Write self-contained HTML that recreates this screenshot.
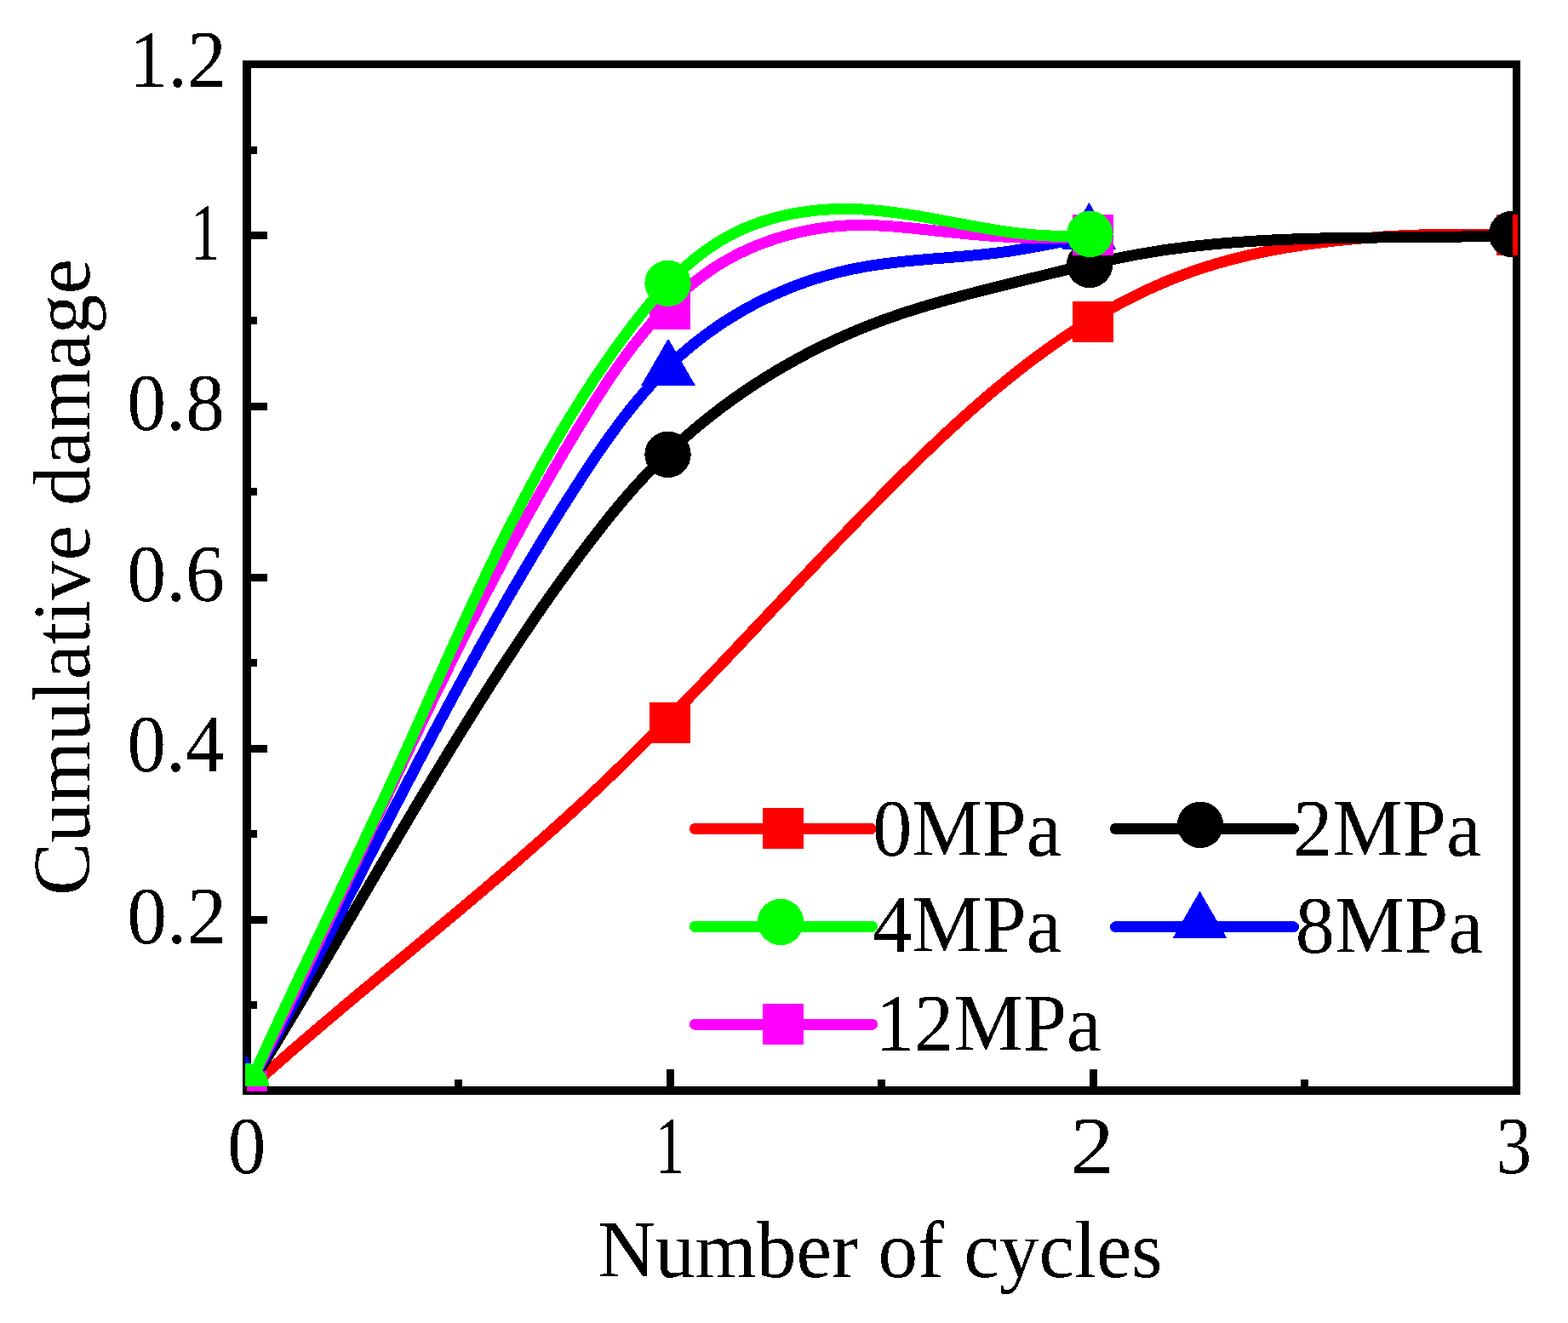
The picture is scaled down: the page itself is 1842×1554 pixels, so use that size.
<!DOCTYPE html><html><head><meta charset="utf-8"><title>Cumulative damage vs Number of cycles</title><style>html,body{margin:0;padding:0;background:#fff;overflow:hidden}svg{display:block}</style></head><body>
<svg width="1842" height="1554" viewBox="0 0 1842 1554" shape-rendering="crispEdges">
<rect x="0" y="0" width="1842" height="1554" fill="#fff"/>
<defs><filter id="bin" x="0" y="0" width="100%" height="100%" filterUnits="userSpaceOnUse"><feComponentTransfer><feFuncA type="discrete" tableValues="0 1"/></feComponentTransfer></filter></defs>
<g fill="#000" shape-rendering="crispEdges">
<rect x="285" y="71" width="10" height="1215"/>
<rect x="1777" y="71" width="9" height="1215"/>
<rect x="285" y="71" width="1501" height="9"/>
<rect x="285" y="1276" width="1501" height="10"/>
<rect x="295" y="1176" width="7" height="9"/>
<rect x="295" y="1076" width="19" height="9"/>
<rect x="295" y="975" width="7" height="9"/>
<rect x="295" y="875" width="19" height="9"/>
<rect x="295" y="774" width="7" height="9"/>
<rect x="295" y="674" width="19" height="9"/>
<rect x="295" y="573" width="7" height="9"/>
<rect x="295" y="473" width="19" height="9"/>
<rect x="295" y="372" width="7" height="9"/>
<rect x="295" y="272" width="19" height="9"/>
<rect x="295" y="172" width="7" height="9"/>
<rect x="534" y="1268" width="9" height="8"/>
<rect x="783" y="1256" width="9" height="20"/>
<rect x="1031" y="1268" width="9" height="8"/>
<rect x="1280" y="1256" width="9" height="20"/>
<rect x="1528" y="1268" width="9" height="8"/>
</g>
<g font-family="'Liberation Serif','Times New Roman',serif" fill="#000" filter="url(#bin)">
<text x="151.5" y="102.4" font-size="95.5" textLength="114.4" lengthAdjust="spacingAndGlyphs">1.2</text>
<text x="223.5" y="304.5" font-size="95.5" textLength="35.1" lengthAdjust="spacingAndGlyphs">1</text>
<text x="149.2" y="504.8" font-size="95.5" textLength="114.7" lengthAdjust="spacingAndGlyphs">0.8</text>
<text x="149.3" y="705.5" font-size="95.5" textLength="114.7" lengthAdjust="spacingAndGlyphs">0.6</text>
<text x="149.4" y="906.4" font-size="95.5" textLength="113.8" lengthAdjust="spacingAndGlyphs">0.4</text>
<text x="149.2" y="1108.1" font-size="95.5" textLength="117.2" lengthAdjust="spacingAndGlyphs">0.2</text>
<text x="267.2" y="1377.7" font-size="95.5" textLength="45.1" lengthAdjust="spacingAndGlyphs">0</text>
<text x="769.6" y="1378.1" font-size="95.5" textLength="34.5" lengthAdjust="spacingAndGlyphs">1</text>
<text x="1257.8" y="1377.7" font-size="95.5" textLength="51.0" lengthAdjust="spacingAndGlyphs">2</text>
<text x="1757.8" y="1377.7" font-size="95.5" textLength="41.4" lengthAdjust="spacingAndGlyphs">3</text>
<text x="702.2" y="1500.3" font-size="95.5" textLength="663.5" lengthAdjust="spacingAndGlyphs">Number of cycles</text>
<text transform="translate(104.7 1052.0) rotate(-90)" x="0" y="0" font-size="95.5" textLength="747.8" lengthAdjust="spacingAndGlyphs">Cumulative damage</text>
</g>
<defs><clipPath id="cs"><rect x="290" y="70" width="1493" height="1212"/></clipPath><clipPath id="cc"><rect x="288" y="70" width="1489" height="1206"/></clipPath></defs>
<path d="M290.0 1281.0 L296.9 1274.8 L303.8 1268.6 L310.7 1262.4 L317.7 1256.2 L324.7 1250.1 L331.7 1244.0 L338.7 1237.8 L345.7 1231.7 L352.8 1225.7 L359.8 1219.6 L366.9 1213.5 L374.0 1207.5 L381.1 1201.4 L388.2 1195.4 L395.4 1189.4 L402.5 1183.3 L409.7 1177.3 L416.8 1171.3 L424.0 1165.3 L431.2 1159.4 L438.4 1153.4 L445.5 1147.4 L452.7 1141.4 L459.9 1135.4 L467.1 1129.4 L474.3 1123.5 L481.5 1117.5 L488.7 1111.5 L495.9 1105.5 L503.1 1099.6 L510.3 1093.6 L517.5 1087.6 L524.7 1081.6 L531.9 1075.6 L539.1 1069.6 L546.2 1063.6 L553.4 1057.5 L560.5 1051.5 L567.7 1045.5 L574.8 1039.4 L581.9 1033.3 L589.0 1027.3 L596.1 1021.2 L603.2 1015.1 L610.3 1009.0 L617.3 1002.8 L624.3 996.7 L631.3 990.5 L638.3 984.3 L645.3 978.1 L652.3 971.9 L659.2 965.7 L666.1 959.4 L673.0 953.1 L679.8 946.8 L686.7 940.5 L693.5 934.1 L700.3 927.8 L707.0 921.4 L713.8 914.9 L720.5 908.5 L727.2 902.0 L733.8 895.5 L740.5 889.0 L747.1 882.5 L753.7 876.0 L760.3 869.4 L766.9 862.8 L773.4 856.2 L779.9 849.6 L786.5 843.0 L793.0 836.4 L799.5 829.7 L805.9 823.0 L812.4 816.4 L818.9 809.7 L825.3 803.0 L831.7 796.2 L838.2 789.5 L844.6 782.8 L851.0 776.0 L857.4 769.3 L863.8 762.5 L870.2 755.8 L876.6 749.0 L883.0 742.2 L889.4 735.5 L895.8 728.7 L902.2 721.9 L908.6 715.1 L915.0 708.4 L921.4 701.6 L927.8 694.8 L934.2 688.0 L940.6 681.2 L947.0 674.4 L953.4 667.7 L959.9 660.9 L966.3 654.1 L974.9 645.1 L981.4 638.4 L987.9 631.6 L994.3 624.9 L1000.9 618.1 L1007.4 611.4 L1013.9 604.7 L1020.5 598.0 L1027.0 591.3 L1033.6 584.6 L1040.2 578.0 L1046.8 571.3 L1053.5 564.7 L1060.1 558.0 L1066.8 551.4 L1073.6 544.9 L1080.3 538.3 L1087.0 531.8 L1093.8 525.2 L1100.7 518.8 L1107.5 512.3 L1114.4 505.9 L1121.3 499.6 L1128.2 493.2 L1135.2 487.0 L1142.2 480.7 L1149.3 474.5 L1156.3 468.4 L1163.4 462.3 L1170.6 456.3 L1177.8 450.4 L1185.0 444.5 L1192.3 438.7 L1199.6 432.9 L1207.0 427.2 L1214.4 421.6 L1221.9 416.1 L1229.4 410.6 L1236.9 405.3 L1244.5 400.0 L1252.2 394.8 L1259.9 389.7 L1267.6 384.7 L1275.4 379.7 L1283.3 374.9 L1291.2 370.2 L1299.2 365.6 L1307.2 361.1 L1315.3 356.7 L1323.5 352.4 L1331.7 348.2 L1340.0 344.1 L1348.3 340.2 L1356.7 336.4 L1365.2 332.7 L1373.7 329.1 L1382.3 325.7 L1391.0 322.4 L1399.7 319.2 L1408.5 316.2 L1417.4 313.3 L1426.4 310.5 L1435.4 307.9 L1444.4 305.4 L1453.6 303.1 L1462.7 300.8 L1471.9 298.7 L1481.2 296.7 L1490.5 294.8 L1499.8 293.0 L1509.1 291.3 L1518.4 289.8 L1527.8 288.3 L1537.2 286.9 L1546.5 285.6 L1555.9 284.5 L1565.2 283.3 L1574.6 282.3 L1583.9 281.4 L1593.2 280.5 L1602.5 279.7 L1611.8 279.0 L1621.0 278.3 L1630.3 277.7 L1639.5 277.2 L1648.8 276.7 L1658.0 276.3 L1667.3 276.0 L1676.5 275.7 L1685.7 275.4 L1695.0 275.3 L1704.2 275.1 L1713.5 275.0 L1722.8 275.0 L1732.1 275.0 L1741.4 275.0 L1750.7 275.0 L1760.1 275.1 L1769.4 275.3 L1782.0 275.5" fill="none" stroke="#ff0000" stroke-width="13" stroke-linejoin="round" stroke-linecap="round" clip-path="url(#cs)"/>
<rect x="266.0" y="1257.0" width="48" height="48" fill="#ff0000" clip-path="url(#cs)"/>
<rect x="763.0" y="825.0" width="48" height="48" fill="#ff0000" clip-path="url(#cs)"/>
<rect x="1260.0" y="354.0" width="48" height="48" fill="#ff0000" clip-path="url(#cs)"/>
<rect x="1758.0" y="252.0" width="48" height="48" fill="#ff0000" clip-path="url(#cs)"/>
<path d="M290.0 1281.0 L295.2 1272.7 L300.3 1264.3 L305.4 1256.0 L310.5 1247.7 L315.6 1239.3 L320.7 1230.9 L325.8 1222.6 L330.8 1214.2 L335.9 1205.8 L340.9 1197.4 L345.9 1189.1 L350.9 1180.7 L355.9 1172.3 L360.9 1163.9 L365.9 1155.5 L370.9 1147.0 L375.9 1138.6 L380.8 1130.2 L385.8 1121.8 L390.7 1113.4 L395.7 1105.0 L400.6 1096.5 L405.6 1088.1 L410.5 1079.7 L415.5 1071.3 L420.4 1062.8 L425.3 1054.4 L430.3 1046.0 L435.2 1037.6 L440.2 1029.1 L445.1 1020.7 L450.1 1012.3 L455.0 1003.9 L460.0 995.5 L465.0 987.1 L469.9 978.7 L474.9 970.3 L479.9 961.9 L484.9 953.5 L489.9 945.1 L494.9 936.7 L499.9 928.3 L505.0 920.0 L510.0 911.6 L515.1 903.2 L520.1 894.9 L525.2 886.5 L530.3 878.2 L535.4 869.9 L540.5 861.6 L545.7 853.3 L550.8 845.0 L556.0 836.7 L561.2 828.4 L566.4 820.1 L571.7 811.9 L576.9 803.6 L582.2 795.4 L587.5 787.2 L592.8 779.0 L598.2 770.8 L603.6 762.7 L609.0 754.5 L614.4 746.4 L619.9 738.3 L625.4 730.2 L630.9 722.1 L636.5 714.1 L642.1 706.0 L647.7 698.0 L653.4 690.1 L659.1 682.1 L664.9 674.2 L670.7 666.3 L676.5 658.4 L682.3 650.6 L688.3 642.7 L694.2 635.0 L700.2 627.2 L706.2 619.5 L712.3 611.8 L718.5 604.1 L724.7 596.6 L731.0 589.0 L737.4 581.6 L743.8 574.2 L750.4 567.0 L757.0 559.8 L763.8 552.7 L770.6 545.7 L777.6 538.9 L784.6 532.1 L791.7 525.4 L798.9 518.8 L806.2 512.4 L813.6 506.0 L821.0 499.7 L828.6 493.6 L836.2 487.5 L846.5 479.6 L854.3 473.8 L862.2 468.1 L870.2 462.5 L878.2 457.0 L886.4 451.6 L894.5 446.4 L902.8 441.2 L911.1 436.1 L919.5 431.2 L928.0 426.4 L936.5 421.6 L945.1 417.0 L953.7 412.5 L962.4 408.1 L971.2 403.9 L980.0 399.7 L988.9 395.7 L997.8 391.8 L1006.8 387.9 L1015.9 384.3 L1025.0 380.7 L1034.1 377.2 L1043.3 373.9 L1052.5 370.7 L1061.8 367.5 L1071.1 364.5 L1080.4 361.6 L1089.8 358.8 L1099.2 356.0 L1108.6 353.3 L1118.1 350.7 L1127.6 348.2 L1137.1 345.6 L1146.6 343.2 L1156.1 340.7 L1165.6 338.3 L1175.2 336.0 L1184.7 333.6 L1194.2 331.2 L1203.7 328.9 L1213.3 326.5 L1222.8 324.2 L1232.3 321.8 L1241.8 319.5 L1251.3 317.2 L1260.8 314.9 L1270.3 312.7 L1279.9 310.5 L1289.4 308.4 L1298.9 306.3 L1308.4 304.3 L1318.0 302.4 L1327.6 300.5 L1337.1 298.7 L1346.7 297.1 L1356.3 295.5 L1365.9 294.0 L1375.6 292.6 L1385.2 291.4 L1394.9 290.1 L1404.6 289.0 L1414.2 288.0 L1423.9 287.0 L1433.6 286.1 L1443.4 285.3 L1453.1 284.5 L1462.8 283.9 L1472.6 283.2 L1482.3 282.7 L1492.1 282.1 L1501.8 281.7 L1511.6 281.3 L1521.4 280.9 L1531.2 280.6 L1541.0 280.3 L1550.8 280.0 L1560.6 279.8 L1570.4 279.6 L1580.2 279.4 L1590.0 279.3 L1599.8 279.2 L1609.6 279.1 L1619.4 279.0 L1629.2 278.9 L1639.0 278.8 L1648.8 278.7 L1658.6 278.6 L1668.4 278.6 L1678.2 278.5 L1687.9 278.4 L1697.7 278.3 L1707.5 278.2 L1717.3 278.0 L1727.0 277.9 L1736.8 277.7 L1746.6 277.5 L1756.3 277.2 L1766.0 276.9 L1779.0 276.5" fill="none" stroke="#000000" stroke-width="13" stroke-linejoin="round" stroke-linecap="round" clip-path="url(#cc)"/>
<circle cx="287.0" cy="1277.0" r="27.2" fill="#000" clip-path="url(#cc)"/>
<circle cx="784.5" cy="533.9" r="27.2" fill="#000" clip-path="url(#cc)"/>
<circle cx="1280.0" cy="311.0" r="27.2" fill="#000" clip-path="url(#cc)"/>
<circle cx="1776.0" cy="275.0" r="27.2" fill="#000" clip-path="url(#cc)"/>
<path d="M290.0 1281.0 L293.7 1274.3 L297.3 1267.6 L300.9 1260.9 L304.6 1254.2 L308.2 1247.5 L311.8 1240.8 L315.4 1234.1 L319.0 1227.4 L322.6 1220.7 L326.2 1214.0 L329.7 1207.3 L333.3 1200.6 L336.9 1193.8 L340.4 1187.1 L343.9 1180.4 L347.5 1173.6 L351.0 1166.9 L354.5 1160.2 L358.0 1153.4 L361.6 1146.7 L365.1 1139.9 L368.6 1133.2 L372.1 1126.4 L375.6 1119.7 L379.0 1112.9 L382.5 1106.2 L386.0 1099.4 L389.5 1092.7 L393.0 1085.9 L396.4 1079.2 L399.9 1072.4 L403.4 1065.7 L406.9 1058.9 L410.3 1052.1 L413.8 1045.4 L417.3 1038.6 L420.7 1031.9 L424.2 1025.1 L427.7 1018.4 L431.1 1011.6 L434.6 1004.8 L438.1 998.1 L441.5 991.3 L445.0 984.6 L448.5 977.8 L452.0 971.1 L455.4 964.3 L458.9 957.6 L462.4 950.8 L465.9 944.1 L469.4 937.4 L472.9 930.6 L476.4 923.9 L479.9 917.1 L483.4 910.4 L486.9 903.7 L490.4 897.0 L493.9 890.2 L497.5 883.5 L501.0 876.8 L504.6 870.1 L508.1 863.4 L511.7 856.7 L515.2 850.0 L518.8 843.3 L522.4 836.6 L526.0 829.9 L529.6 823.2 L533.2 816.5 L536.8 809.8 L540.4 803.2 L544.0 796.5 L547.7 789.8 L551.3 783.2 L555.0 776.5 L558.7 769.9 L562.3 763.2 L566.0 756.6 L569.7 750.0 L573.5 743.3 L577.2 736.7 L580.9 730.1 L584.7 723.5 L588.5 716.9 L592.2 710.3 L596.0 703.7 L599.9 697.1 L603.7 690.5 L607.5 684.0 L611.4 677.4 L615.2 670.9 L619.1 664.3 L623.0 657.8 L626.9 651.2 L630.9 644.7 L634.8 638.2 L638.8 631.7 L642.7 625.2 L646.7 618.7 L652.1 610.1 L656.1 603.6 L660.2 597.1 L664.3 590.7 L668.4 584.2 L672.5 577.8 L676.6 571.4 L680.8 564.9 L684.9 558.5 L689.1 552.1 L693.4 545.8 L697.6 539.4 L701.9 533.1 L706.2 526.8 L710.6 520.5 L715.0 514.3 L719.5 508.1 L724.0 502.0 L728.5 495.9 L733.1 489.8 L737.8 483.8 L742.5 477.9 L747.3 472.0 L752.2 466.2 L757.1 460.5 L762.1 454.8 L767.2 449.2 L772.3 443.7 L777.5 438.2 L782.8 432.9 L788.2 427.6 L793.7 422.4 L799.3 417.4 L805.0 412.4 L810.8 407.5 L816.6 402.7 L822.6 398.1 L828.6 393.5 L834.8 389.0 L841.0 384.7 L847.2 380.4 L853.6 376.3 L860.1 372.2 L866.6 368.3 L873.1 364.5 L879.8 360.8 L886.5 357.2 L893.3 353.8 L900.1 350.4 L907.0 347.2 L914.0 344.1 L921.0 341.1 L928.0 338.2 L935.1 335.4 L942.2 332.8 L949.4 330.3 L956.7 327.9 L963.9 325.6 L971.2 323.5 L978.6 321.5 L985.9 319.6 L993.3 317.9 L1000.7 316.2 L1008.2 314.8 L1015.7 313.4 L1023.1 312.1 L1030.6 311.0 L1038.2 309.9 L1045.7 309.0 L1053.3 308.1 L1060.8 307.2 L1068.4 306.5 L1076.0 305.8 L1083.6 305.1 L1091.2 304.4 L1098.8 303.8 L1106.4 303.2 L1114.0 302.6 L1121.6 301.9 L1129.2 301.3 L1136.8 300.6 L1144.3 299.9 L1151.9 299.2 L1159.5 298.4 L1167.0 297.5 L1174.6 296.6 L1182.1 295.6 L1189.6 294.5 L1197.1 293.3 L1204.6 292.0 L1212.1 290.7 L1219.6 289.3 L1227.0 287.9 L1234.5 286.5 L1241.9 285.1 L1249.4 283.8 L1256.9 282.5 L1264.4 281.3 L1271.9 280.3 L1282.0 279.0" fill="none" stroke="#0000ff" stroke-width="13" stroke-linejoin="round" stroke-linecap="round" clip-path="url(#cc)"/>
<polygon points="287.5,1237.0 319.2,1292.0 255.8,1292.0" fill="#0000ff" clip-path="url(#cc)"/>
<polygon points="785.0,397.7 816.8,452.7 753.2,452.7" fill="#0000ff" clip-path="url(#cc)"/>
<polygon points="1279.4,237.8 1311.2,292.8 1247.7,292.8" fill="#0000ff" clip-path="url(#cc)"/>
<path d="M290.0 1281.0 L293.6 1273.9 L297.1 1266.8 L300.6 1259.7 L304.2 1252.6 L307.7 1245.5 L311.2 1238.4 L314.7 1231.3 L318.1 1224.2 L321.6 1217.1 L325.1 1210.0 L328.5 1202.9 L332.0 1195.7 L335.4 1188.6 L338.8 1181.5 L342.2 1174.4 L345.6 1167.3 L349.0 1160.2 L352.4 1153.0 L355.8 1145.9 L359.2 1138.8 L362.6 1131.7 L365.9 1124.6 L369.3 1117.4 L372.6 1110.3 L376.0 1103.2 L379.3 1096.1 L382.7 1089.0 L386.0 1081.8 L389.4 1074.7 L392.7 1067.6 L396.0 1060.5 L399.3 1053.3 L402.7 1046.2 L406.0 1039.1 L409.3 1032.0 L412.6 1024.9 L416.0 1017.8 L419.3 1010.6 L422.6 1003.5 L425.9 996.4 L429.2 989.3 L432.5 982.2 L435.9 975.1 L439.2 968.0 L442.5 960.8 L445.8 953.7 L449.2 946.6 L452.5 939.5 L455.8 932.4 L459.2 925.3 L462.5 918.2 L465.8 911.1 L469.2 904.0 L472.5 896.9 L475.9 889.9 L479.3 882.8 L482.6 875.7 L486.0 868.6 L489.4 861.5 L492.8 854.4 L496.2 847.4 L499.6 840.3 L503.0 833.2 L506.4 826.2 L509.8 819.1 L513.2 812.0 L516.7 805.0 L520.1 797.9 L523.6 790.9 L527.1 783.8 L530.5 776.8 L534.0 769.7 L537.5 762.7 L541.0 755.7 L544.6 748.6 L548.1 741.6 L551.6 734.6 L555.2 727.6 L558.8 720.6 L562.4 713.6 L566.0 706.6 L569.6 699.6 L573.2 692.6 L576.8 685.6 L580.5 678.6 L584.2 671.6 L587.8 664.6 L591.5 657.7 L595.3 650.7 L599.0 643.7 L602.7 636.8 L606.5 629.8 L610.3 622.9 L614.1 615.9 L617.9 609.0 L621.7 602.1 L625.6 595.2 L629.5 588.2 L633.4 581.3 L638.6 572.1 L642.5 565.2 L646.5 558.3 L650.5 551.4 L654.5 544.6 L658.5 537.7 L662.5 530.8 L666.6 524.0 L670.7 517.1 L674.8 510.3 L678.9 503.4 L683.1 496.6 L687.3 489.8 L691.5 483.0 L695.7 476.2 L700.0 469.4 L704.3 462.7 L708.7 456.0 L713.1 449.3 L717.5 442.7 L722.0 436.1 L726.6 429.6 L731.2 423.1 L735.9 416.7 L740.6 410.4 L745.4 404.1 L750.3 398.0 L755.2 391.9 L760.2 385.9 L765.3 379.9 L770.5 374.1 L775.8 368.4 L781.2 362.8 L786.6 357.3 L792.2 351.9 L797.8 346.7 L803.6 341.5 L809.4 336.5 L815.4 331.7 L821.5 326.9 L827.7 322.4 L834.0 317.9 L840.4 313.7 L847.0 309.5 L853.7 305.6 L860.5 301.8 L867.5 298.2 L874.5 294.8 L881.7 291.5 L889.0 288.5 L896.4 285.6 L903.9 282.9 L911.4 280.3 L919.1 278.0 L926.8 275.8 L934.5 273.8 L942.3 272.0 L950.2 270.4 L958.0 269.0 L965.9 267.8 L973.9 266.7 L981.8 265.9 L989.7 265.2 L997.6 264.8 L1005.5 264.5 L1013.4 264.4 L1021.3 264.5 L1029.1 264.8 L1037.0 265.2 L1044.8 265.7 L1052.6 266.3 L1060.5 267.0 L1068.3 267.7 L1076.1 268.5 L1083.9 269.4 L1091.7 270.2 L1099.5 271.1 L1107.4 271.9 L1115.2 272.7 L1123.0 273.5 L1130.9 274.3 L1138.7 275.0 L1146.5 275.7 L1154.4 276.4 L1162.2 277.0 L1170.1 277.5 L1178.0 278.0 L1185.8 278.4 L1193.7 278.8 L1201.6 279.1 L1209.4 279.3 L1217.3 279.5 L1225.2 279.5 L1233.1 279.5 L1240.9 279.4 L1248.8 279.2 L1256.7 278.8 L1264.6 278.4 L1272.5 277.9 L1283.0 277.0" fill="none" stroke="#ff00ff" stroke-width="13" stroke-linejoin="round" stroke-linecap="round" clip-path="url(#cs)"/>
<rect x="266.0" y="1258.0" width="48" height="48" fill="#ff00ff" clip-path="url(#cs)"/>
<rect x="763.0" y="339.0" width="48" height="48" fill="#ff00ff" clip-path="url(#cs)"/>
<rect x="1260.0" y="252.0" width="48" height="48" fill="#ff00ff" clip-path="url(#cs)"/>
<path d="M290.0 1281.0 L293.3 1273.7 L296.6 1266.4 L299.8 1259.2 L303.1 1251.9 L306.5 1244.7 L309.8 1237.4 L313.1 1230.1 L316.5 1222.9 L319.8 1215.6 L323.2 1208.4 L326.5 1201.2 L329.9 1193.9 L333.3 1186.7 L336.7 1179.4 L340.1 1172.2 L343.5 1165.0 L346.9 1157.8 L350.3 1150.5 L353.7 1143.3 L357.2 1136.1 L360.6 1128.9 L364.0 1121.6 L367.4 1114.4 L370.9 1107.2 L374.3 1100.0 L377.8 1092.8 L381.2 1085.6 L384.6 1078.3 L388.1 1071.1 L391.5 1063.9 L395.0 1056.7 L398.4 1049.5 L401.8 1042.2 L405.3 1035.0 L408.7 1027.8 L412.1 1020.6 L415.6 1013.4 L419.0 1006.1 L422.4 998.9 L425.8 991.7 L429.2 984.5 L432.6 977.2 L436.0 970.0 L439.4 962.8 L442.8 955.5 L446.2 948.3 L449.6 941.0 L453.0 933.8 L456.3 926.5 L459.7 919.3 L463.0 912.0 L466.3 904.8 L469.7 897.5 L473.0 890.2 L476.3 883.0 L479.6 875.7 L482.9 868.4 L486.2 861.1 L489.4 853.8 L492.7 846.6 L496.0 839.3 L499.3 832.0 L502.5 824.7 L505.8 817.4 L509.0 810.1 L512.3 802.9 L515.6 795.6 L518.9 788.3 L522.1 781.0 L525.4 773.7 L528.7 766.5 L532.0 759.2 L535.3 751.9 L538.6 744.7 L541.9 737.4 L545.2 730.2 L548.5 722.9 L551.9 715.7 L555.2 708.5 L558.6 701.2 L562.0 694.0 L565.4 686.8 L568.8 679.6 L572.2 672.4 L575.7 665.2 L579.1 658.0 L582.6 650.9 L586.1 643.7 L589.6 636.6 L593.2 629.4 L596.8 622.3 L600.3 615.2 L604.0 608.1 L607.6 601.0 L611.3 593.9 L615.0 586.8 L618.7 579.8 L622.4 572.7 L626.2 565.7 L631.3 556.4 L635.1 549.4 L639.0 542.4 L642.9 535.5 L646.9 528.5 L650.9 521.6 L654.9 514.7 L658.9 507.8 L663.0 500.9 L667.1 494.1 L671.3 487.2 L675.5 480.4 L679.8 473.6 L684.1 466.8 L688.4 460.1 L692.8 453.4 L697.2 446.6 L701.7 439.9 L706.2 433.3 L710.8 426.6 L715.4 420.0 L720.0 413.4 L724.7 406.8 L729.5 400.3 L734.3 393.7 L739.2 387.2 L744.1 380.8 L749.1 374.4 L754.1 368.0 L759.2 361.8 L764.4 355.6 L769.7 349.5 L775.0 343.5 L780.5 337.6 L786.0 331.8 L791.6 326.1 L797.3 320.6 L803.2 315.2 L809.1 310.0 L815.1 304.9 L821.2 300.1 L827.5 295.3 L833.9 290.8 L840.3 286.5 L847.0 282.4 L853.7 278.5 L860.6 274.8 L867.6 271.4 L874.7 268.2 L882.0 265.2 L889.4 262.4 L896.8 259.9 L904.4 257.5 L912.0 255.4 L919.7 253.5 L927.5 251.8 L935.4 250.3 L943.3 249.1 L951.2 248.0 L959.2 247.1 L967.2 246.4 L975.2 245.9 L983.3 245.6 L991.3 245.4 L999.4 245.5 L1007.4 245.7 L1015.5 246.1 L1023.5 246.7 L1031.5 247.4 L1039.5 248.2 L1047.5 249.2 L1055.5 250.2 L1063.4 251.4 L1071.4 252.6 L1079.4 253.9 L1087.3 255.3 L1095.3 256.7 L1103.2 258.2 L1111.1 259.7 L1119.0 261.1 L1126.9 262.6 L1134.8 264.1 L1142.7 265.6 L1150.6 267.0 L1158.5 268.4 L1166.3 269.7 L1174.2 270.9 L1182.1 272.1 L1189.9 273.2 L1197.8 274.1 L1205.7 275.0 L1213.6 275.7 L1221.5 276.4 L1229.4 276.8 L1237.3 277.2 L1245.3 277.3 L1253.2 277.3 L1261.2 277.2 L1269.3 276.8 L1280.0 276.0" fill="none" stroke="#00ff00" stroke-width="13" stroke-linejoin="round" stroke-linecap="round" clip-path="url(#cc)"/>
<circle cx="288.7" cy="1276.0" r="27.2" fill="#00ff00" clip-path="url(#cc)"/>
<circle cx="784.5" cy="332.8" r="27.2" fill="#00ff00" clip-path="url(#cc)"/>
<circle cx="1280.4" cy="275.0" r="27.2" fill="#00ff00" clip-path="url(#cc)"/>
<line x1="816.5" y1="973.5" x2="1023" y2="973.5" stroke="#ff0000" stroke-width="13" stroke-linecap="round"/>
<rect x="895.9" y="948.8" width="48" height="48" fill="#ff0000"/>
<line x1="816.5" y1="1088.4" x2="1024.5" y2="1088.4" stroke="#00ff00" stroke-width="13" stroke-linecap="round"/>
<circle cx="917.0" cy="1083.0" r="27.2" fill="#00ff00"/>
<line x1="816.5" y1="1203.3" x2="1024.5" y2="1203.3" stroke="#ff00ff" stroke-width="13" stroke-linecap="round"/>
<rect x="896.0" y="1178.8" width="48" height="48" fill="#ff00ff"/>
<line x1="1310.4" y1="973.5" x2="1519.5" y2="973.5" stroke="#000" stroke-width="13" stroke-linecap="round"/>
<circle cx="1410.0" cy="968.9" r="27.2" fill="#000"/>
<line x1="1310.4" y1="1088.7" x2="1519.5" y2="1088.7" stroke="#0000ff" stroke-width="13" stroke-linecap="round"/>
<polygon points="1409.5,1046.7 1441.2,1101.7 1377.7,1101.7" fill="#0000ff"/>
<g font-family="'Liberation Serif','Times New Roman',serif" fill="#000" filter="url(#bin)">
<text x="1024.9" y="1004.8" font-size="95.5" textLength="222.1" lengthAdjust="spacingAndGlyphs">0MPa</text>
<text x="1024.9" y="1118.4" font-size="95.5" textLength="222.0" lengthAdjust="spacingAndGlyphs">4MPa</text>
<text x="1028.3" y="1234.2" font-size="95.5" textLength="265.5" lengthAdjust="spacingAndGlyphs">12MPa</text>
<text x="1519.3" y="1004.5" font-size="95.5" textLength="220.6" lengthAdjust="spacingAndGlyphs">2MPa</text>
<text x="1521.8" y="1119.0" font-size="95.5" textLength="220.6" lengthAdjust="spacingAndGlyphs">8MPa</text>
</g>
</svg></body></html>
